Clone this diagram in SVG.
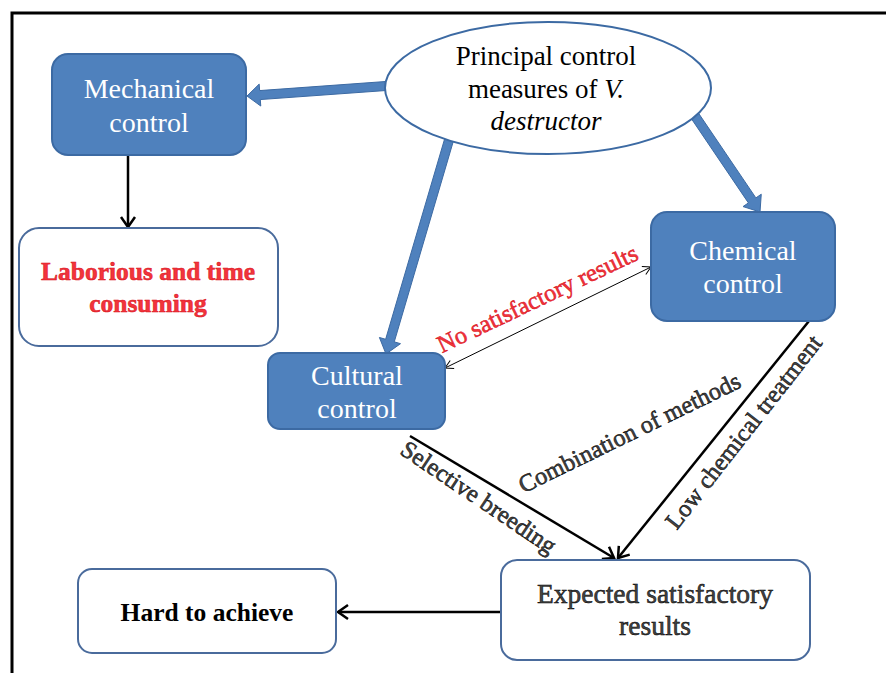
<svg xmlns="http://www.w3.org/2000/svg" width="886" height="673" viewBox="0 0 886 673">
<defs>
<style>
.blue{fill:#4F81BD;stroke:#3C6AA3;stroke-width:2}
.white{fill:#FFFFFF;stroke:#4A6B9C;stroke-width:2}
.t{font-family:"Liberation Serif","Times New Roman",serif;text-anchor:middle}
.wt{fill:#FFFFFF;font-size:28px}
.bk{fill:#000000;font-size:27px}
.red{fill:#F2343C;stroke:#D8101A;stroke-width:0.5;font-weight:bold;font-size:25.5px}
.redl{fill:#F2343C;stroke:#D8101A;stroke-width:0.5;font-size:24.5px}
.ol{fill:#444444;stroke:#000000;stroke-width:0.5;font-size:24.5px}
.olb{fill:#444444;stroke:#000000;stroke-width:0.5;font-size:27.5px}
.hd{fill:#000000;font-weight:bold;font-size:25.5px}
.arrowb{fill:#4F81BD;stroke:#3C6AA3;stroke-width:1}
.line{stroke:#000000;stroke-width:2.5;fill:none}
.thin{stroke:#000000;stroke-width:1;fill:none}
</style>
<marker id="ah" markerUnits="userSpaceOnUse" markerWidth="16" markerHeight="18" viewBox="-12 -9 14 18" refX="0" refY="0" orient="auto">
<path d="M-10,-7 L0,0 L-10,7" fill="none" stroke="#000" stroke-width="2.5"/>
</marker>
<marker id="ahs" markerUnits="userSpaceOnUse" markerWidth="12" markerHeight="12" viewBox="-10 -6 12 12" refX="0" refY="0" orient="auto-start-reverse">
<path d="M-8,-4.5 L0,0 L-8,4.5" fill="none" stroke="#000" stroke-width="1"/>
</marker>
</defs>
<rect width="886" height="673" fill="#FFFFFF"/>
<path d="M12,673 L12,13 L886,13" fill="none" stroke="#000" stroke-width="3"/>

<g id="connectors">
<polygon class="arrowb" points="385.68,81.51 259.65,90.58 259.18,84.10 247,96 260.76,106.04 260.29,99.56 386.32,90.49"/>
<polygon class="arrowb" points="444.68,138.73 385.63,339.30 379.40,337.46 386,354 400.50,343.68 394.27,341.84 453.32,141.27"/>
<polygon class="arrowb" points="691.27,118.52 748.42,202.92 743.04,206.57 760,212 761.26,194.23 755.88,197.88 698.73,113.48"/>
<line class="line" x1="128" y1="156" x2="128" y2="227" marker-end="url(#ah)"/>
<line class="thin" x1="445" y1="368" x2="651" y2="267" marker-start="url(#ahs)" marker-end="url(#ahs)"/>
<line class="line" x1="410" y1="436" x2="614" y2="558" marker-end="url(#ah)"/>
<line class="line" x1="809" y1="321" x2="618" y2="558" marker-end="url(#ah)"/>
<line class="line" x1="501" y1="612" x2="338" y2="612" marker-end="url(#ah)"/>
<text class="t redl" transform="translate(541,306) rotate(-25.5)">No satisfactory results</text>
<text class="t ol" transform="translate(633,440) rotate(-26)">Combination of methods</text>
<text class="t ol" transform="translate(474,504) rotate(34)">Selective breeding</text>
<text class="t ol" transform="translate(750,437) rotate(-52)">Low chemical treatment</text>
</g>

<g id="principal">
<ellipse cx="548" cy="88" rx="163" ry="66" fill="#FFFFFF" stroke="#3C6AA3" stroke-width="2"/>
<text class="t bk" x="546" y="65">Principal control</text>
<text class="t bk" x="546" y="98">measures of <tspan font-style="italic">V.</tspan></text>
<text class="t bk" x="546" y="130" font-style="italic">destructor</text>
</g>

<g id="mechanical">
<rect class="blue" x="52" y="54" width="194" height="101" rx="16"/>
<text class="t wt" x="149" y="98">Mechanical</text>
<text class="t wt" x="149" y="132">control</text>
</g>

<g id="laborious">
<rect class="white" x="19" y="228" width="259" height="118" rx="20"/>
<text class="t red" x="148" y="280">Laborious and time</text>
<text class="t red" x="148" y="312">consuming</text>
</g>

<g id="chemical">
<rect class="blue" x="651" y="212" width="184" height="109" rx="16"/>
<text class="t wt" x="743" y="260">Chemical</text>
<text class="t wt" x="743" y="293">control</text>
</g>

<g id="cultural">
<rect class="blue" x="268" y="353" width="177" height="76" rx="12"/>
<text class="t wt" x="357" y="385">Cultural</text>
<text class="t wt" x="357" y="418">control</text>
</g>

<g id="expected">
<rect class="white" x="501" y="560" width="309" height="100" rx="16"/>
<text class="t olb" x="655" y="603">Expected satisfactory</text>
<text class="t olb" x="655" y="635">results</text>
</g>

<g id="hard">
<rect class="white" x="78" y="569" width="258" height="84" rx="14"/>
<text class="t hd" x="207" y="621">Hard to achieve</text>
</g>
</svg>
